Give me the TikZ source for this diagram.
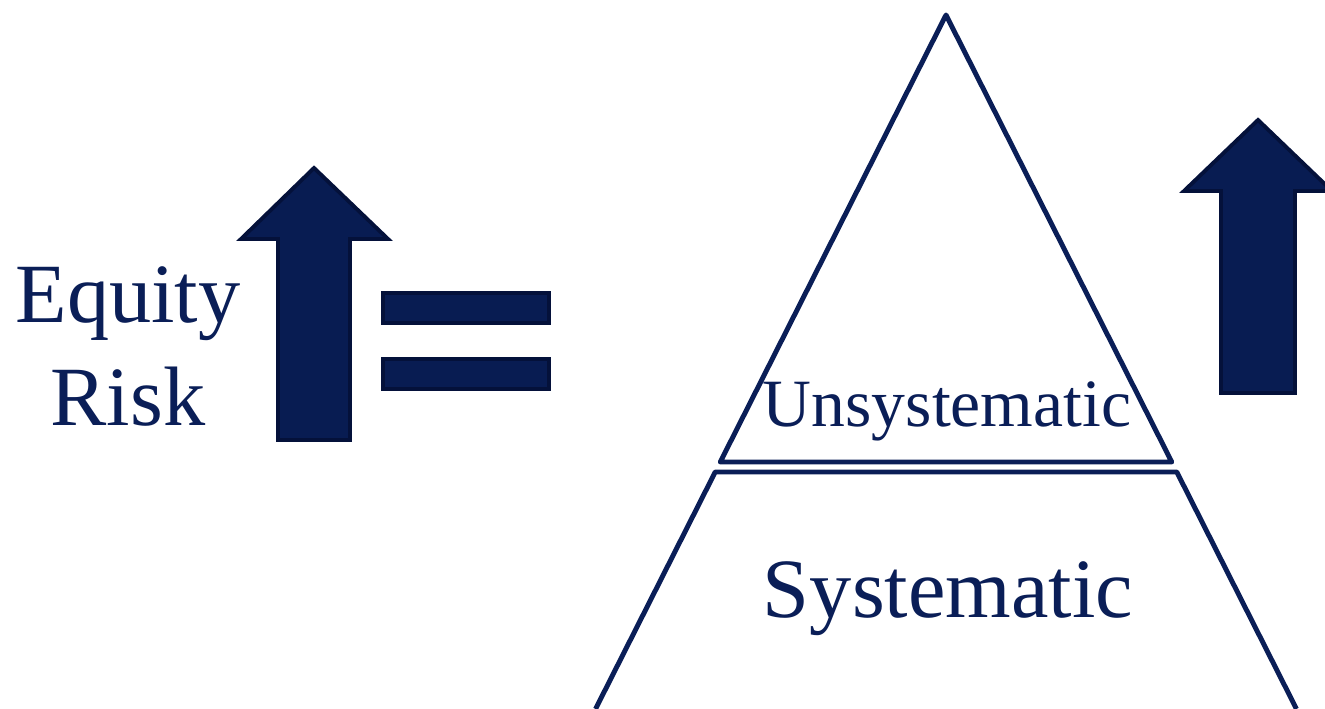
\documentclass[tikz,border=0pt]{standalone}
\usepackage{fontspec}
\setmainfont{Liberation Serif}
\usepackage{tikz}
\usetikzlibrary{calc}
\definecolor{navyx}{HTML}{0A1E57}
\definecolor{navyfill}{HTML}{081C52}
\definecolor{navyedge}{HTML}{04113A}
\tikzset{
  uparr/.style={fill=navyfill,draw=navyedge,line width=2.2pt,line join=miter},
  eqbar/.style={fill=navyfill,draw=navyedge,line width=2.6pt},
  tri/.style={draw=navyx,line width=2.8pt,line join=round},
  lbl/.style={text=navyx,anchor=base,inner sep=0pt}
}

\begin{document}
\begin{tikzpicture}[x=0.02cm,y=0.02cm]
\clip (0,0) rectangle (1325,709);
% labels left
\node[lbl,font=\fontsize{48}{58}\selectfont] (equity) at (128,386) {Equity};
\node[lbl,font=\fontsize{48}{58}\selectfont] (risk) at (128,283) {Risk};
% up arrows
\draw[uparr] (314,541)--(388,470)--(350,470)--(350,269)--(278,269)--(278,470)--(241,470)--cycle;
\draw[uparr] (1258,589)--(1332,518)--(1295,518)--(1295,316)--(1221,316)--(1221,518)--(1184,518)--cycle;
% equals sign
\draw[eqbar] (383,386) rectangle (549,416);
\draw[eqbar] (383,320) rectangle (549,350);
% triangle split in two
\def\s{0.505}
\coordinate (apex) at (946,694);
\draw[tri] (apex)--($(apex)+({-\s*447},-447)$)--($(apex)+({\s*447},-447)$)--cycle;
\draw[tri] ($(apex)+({-\s*694},-694)$)--($(apex)+({-\s*457},-457)$)--($(apex)+({\s*457},-457)$)--($(apex)+({\s*694},-694)$);
\node[lbl,font=\fontsize{38.5}{46}\selectfont] (unsys) at (947,282) {Unsystematic};
\node[lbl,font=\fontsize{48}{58}\selectfont] (sys) at (948,91) {Systematic};
\end{tikzpicture}
\end{document}
